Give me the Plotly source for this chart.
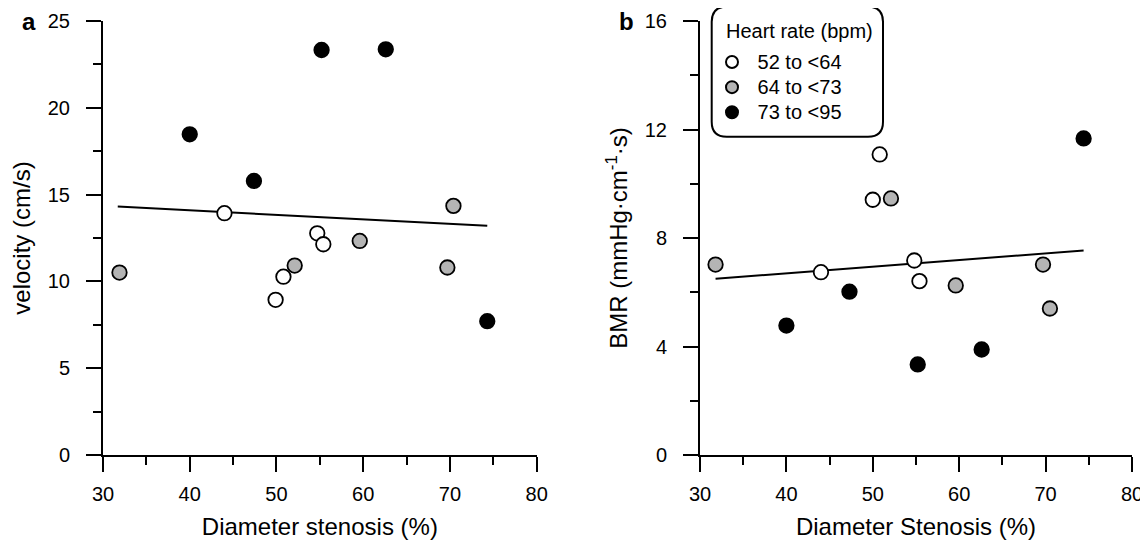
import plotly.graph_objects as go

# ---------------- data ----------------
groups = ["52 to <64", "64 to <73", "73 to <95"]

# Panel a: Diameter stenosis (%) and velocity (cm/s) per heart-rate group
ds_low = [44.0, 54.7, 55.4, 50.8, 49.9]
vel_low = [13.93, 12.77, 12.14, 10.27, 8.94]
ds_mid = [70.4, 59.6, 52.1, 69.7, 31.9]
vel_mid = [14.35, 12.33, 10.91, 10.80, 10.51]
ds_high = [55.2, 62.6, 40.0, 47.4, 74.3]
vel_high = [23.33, 23.37, 18.47, 15.79, 7.71]

# Panel b: Diameter stenosis (%) and BMR (mmHg·cm-1·s) per heart-rate group
ds_low_b = [44.0, 55.4, 50.8, 54.8, 50.0]
bmr_low = [6.74, 6.41, 11.08, 7.17, 9.41]
ds_mid_b = [70.5, 59.6, 52.1, 69.7, 31.8]
bmr_mid = [5.40, 6.25, 9.46, 7.02, 7.02]
ds_high_b = [55.2, 62.6, 40.0, 47.3, 74.4]
bmr_high = [3.34, 3.89, 4.77, 6.02, 11.67]

# regression lines (end points)
fit_a_x = [31.7, 74.3]
fit_a_y = [14.31, 13.20]
fit_b_x = [31.8, 74.4]
fit_b_y = [6.50, 7.54]

x_ticks = [30, 40, 50, 60, 70, 80]
ya_ticks = [0, 5, 10, 15, 20, 25]
yb_ticks = [0, 4, 8, 12, 16]

# ---------------- styling ----------------
FONT = "Liberation Sans, Arial, sans-serif"
OFF = 8  # page body margin of the browser
W, H = 1148 - OFF, 542 - OFF
# target screen geometry (window pixels)
PLOT_L, PLOT_R, PLOT_T, PLOT_B = 103, 1132, 21, 455
ML, MT = PLOT_L - OFF, PLOT_T - OFF
MR = W - (PLOT_R - OFF)
MB = H - (PLOT_B - OFF)
PW = W - ML - MR
PH = H - MT - MB


def px2x(p):
    return (p - PLOT_L) / PW


def px2y(p):
    return 1 - (p - PLOT_T) / PH


fills = ["white", "#b4b4b4", "black"]
MS = 14.5
LW = 1.8

fig = go.Figure()

# regression lines
fig.add_trace(go.Scatter(x=fit_a_x, y=fit_a_y, mode="lines",
                         line=dict(color="black", width=2), showlegend=False,
                         xaxis="x", yaxis="y", hoverinfo="skip"))
fig.add_trace(go.Scatter(x=fit_b_x, y=fit_b_y, mode="lines",
                         line=dict(color="black", width=2), showlegend=False,
                         xaxis="x2", yaxis="y2", hoverinfo="skip"))

a_sets = [(ds_low, vel_low), (ds_mid, vel_mid), (ds_high, vel_high)]
b_sets = [(ds_low_b, bmr_low), (ds_mid_b, bmr_mid), (ds_high_b, bmr_high)]

for i, (xs, ys) in enumerate(a_sets):
    fig.add_trace(go.Scatter(x=xs, y=ys, mode="markers", name=groups[i],
                             legendgroup=groups[i], showlegend=False,
                             marker=dict(size=MS, color=fills[i],
                                         line=dict(color="black", width=LW)),
                             cliponaxis=False, xaxis="x", yaxis="y"))
for i, (xs, ys) in enumerate(b_sets):
    fig.add_trace(go.Scatter(x=xs, y=ys, mode="markers",
                             name=f'<span style="font-size:20px">\u00a0{groups[i]}</span>',
                             legendgroup=groups[i], showlegend=True,
                             marker=dict(size=MS, color=fills[i],
                                         line=dict(color="black", width=LW)),
                             cliponaxis=False, xaxis="x2", yaxis="y2"))


def xaxis_cfg(domain, title, anchor):
    return dict(domain=domain, range=[30, 80], tickvals=x_ticks,
                showline=True, linecolor="black", linewidth=2,
                ticks="outside", ticklen=15, tickwidth=2, tickcolor="black",
                minor=dict(dtick=5, tick0=30, ticks="outside", ticklen=8,
                           tickwidth=2, tickcolor="black"),
                showgrid=False, zeroline=False, anchor=anchor, automargin=False,
                tickfont=dict(size=20, family=FONT, color="black"),
                ticklabelstandoff=5,
                title=dict(text=title, standoff=14,
                           font=dict(size=24, family=FONT, color="black")))


def yaxis_cfg(rng, vals, minor_dtick, title, anchor):
    return dict(domain=[0, 1], range=rng, tickvals=vals,
                showline=True, linecolor="black", linewidth=2,
                ticks="outside", ticklen=15, tickwidth=2, tickcolor="black",
                minor=dict(dtick=minor_dtick, tick0=0, ticks="outside", ticklen=8,
                           tickwidth=2, tickcolor="black"),
                showgrid=False, zeroline=False, anchor=anchor, automargin=False,
                tickfont=dict(size=20, family=FONT, color="black"),
                ticklabelstandoff=12,
                title=dict(text=title, standoff=10,
                           font=dict(size=24, family=FONT, color="black")))


xa_dom = [0, px2x(536.7)]
xb_dom = [px2x(700), 1]

# rounded legend box (window pixel geometry)
bl, br, bt, bb, r = 711.7, 883.0, 6.7, 136.7, 15.0
x0, x1 = px2x(bl), px2x(br)
y0, y1 = px2y(bb), px2y(bt)
rx, ry = r / PW, r / PH
path = (f"M {x0+rx},{y1} L {x1-rx},{y1} Q {x1},{y1} {x1},{y1-ry} "
        f"L {x1},{y0+ry} Q {x1},{y0} {x1-rx},{y0} "
        f"L {x0+rx},{y0} Q {x0},{y0} {x0},{y0+ry} "
        f"L {x0},{y1-ry} Q {x0},{y1} {x0+rx},{y1} Z")

fig.update_layout(
    width=W, height=H,
    margin=dict(l=ML, r=MR, t=MT, b=MB, autoexpand=False),
    paper_bgcolor="white", plot_bgcolor="white",
    font=dict(family=FONT, color="black"),
    xaxis=xaxis_cfg(xa_dom, "Diameter stenosis (%)", "y"),
    yaxis=yaxis_cfg([0, 25], ya_ticks, 2.5, "velocity (cm/s)", "x"),
    xaxis2=xaxis_cfg(xb_dom, "Diameter Stenosis (%)", "y2"),
    yaxis2=yaxis_cfg([0, 16], yb_ticks, 2, "BMR (mmHg·cm<sup>-1</sup>·s)", "x2"),
    showlegend=True,
    legend=dict(x=px2x(712), y=px2y(44.5), xanchor="left", yanchor="top",
                bgcolor="rgba(0,0,0,0)", borderwidth=0, itemsizing="constant",
                font=dict(size=17, family=FONT, color="black"),
                tracegroupgap=0),
    shapes=[dict(type="path", path=path, xref="paper", yref="paper",
                 line=dict(color="black", width=2), fillcolor="rgba(0,0,0,0)")],
    annotations=[
        dict(text="Heart rate (bpm)", x=px2x(724), y=px2y(31), xref="paper",
             yref="paper", showarrow=False, xanchor="left", yanchor="middle",
             font=dict(size=20, family=FONT, color="black")),
        dict(text="<b>a</b>", x=px2x(29), y=px2y(21), xref="paper", yref="paper",
             showarrow=False, xanchor="center", yanchor="middle",
             font=dict(size=24, family=FONT, color="black")),
        dict(text="<b>b</b>", x=px2x(626), y=px2y(21), xref="paper", yref="paper",
             showarrow=False, xanchor="center", yanchor="middle",
             font=dict(size=24, family=FONT, color="black")),
    ],
)

fig.write_html("out.html")
